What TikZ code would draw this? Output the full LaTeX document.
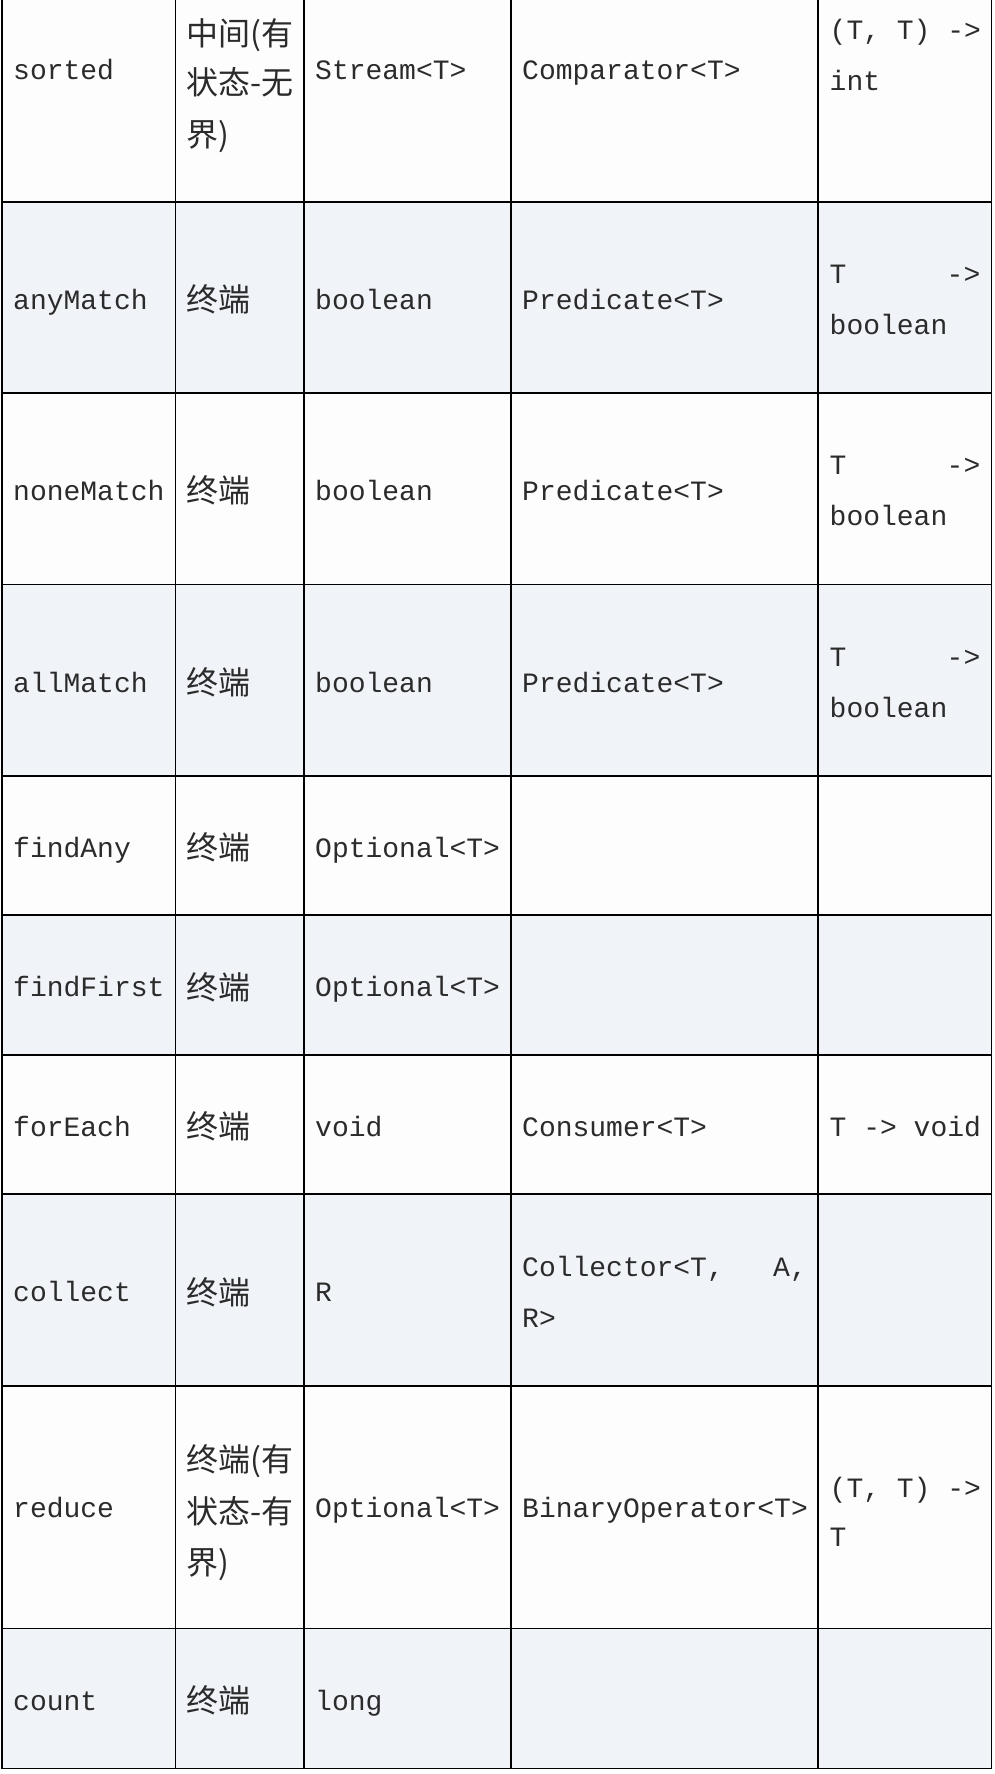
\documentclass[tikz,border=0pt]{standalone}
\usepackage{fontspec}
\newfontfamily\monof{Liberation Mono}
\newfontfamily\cjkf{Noto Sans CJK SC}
\definecolor{rowshade}{HTML}{F0F3F8}
\definecolor{paper}{HTML}{FDFDFD}
\definecolor{txt}{HTML}{2B2B2B}
\begin{document}
\begin{tikzpicture}[x=1pt,y=-1pt,
  code/.style={anchor=base west, inner sep=0pt, font=\monof\fontsize{28}{34}\selectfont, text=txt},
  coder/.style={code, anchor=base east},
  cjk/.style={anchor=base west, inner sep=0pt, font=\cjkf\fontsize{32}{40}\selectfont, text=txt},
  gridline/.style={line width=1.6pt, black}]
\useasboundingbox (0,0) rectangle (994,1774);
\fill[white] (0,0) rectangle (994,1774);
\fill[paper] (2,0) rectangle (991.5,1768.5);
% shaded rows
\fill[rowshade] (2,201.7) rectangle (991.5,392.7);
\fill[rowshade] (2,584.3) rectangle (991.5,776);
\fill[rowshade] (2,915) rectangle (991.5,1055);
\fill[rowshade] (2,1194) rectangle (991.5,1386);
\fill[rowshade] (2,1628.5) rectangle (991.5,1768.5);
% grid
\foreach \x in {2,175.6,304,511,818,991.5} \draw[gridline] (\x,0) -- (\x,1768.5);
\foreach \y in {201.7,392.7,584.3,776,915,1055,1194,1386,1628.5,1768.5} \draw[gridline] (1.2,\y) -- (992.3,\y);

% row 1: sorted
\node[code] (r1c1) at (13,80) {sorted};
\node[cjk] (r1c2a) at (186.5,45.2) {中间(有};
\node[cjk] (r1c2b) at (186.5,94.7) {状态-无};
\node[cjk] (r1c2c) at (186.5,146.2) {界)};
\node[code] (r1c3) at (315,80) {Stream<T>};
\node[code] (r1c4) at (522,80) {Comparator<T>};
\node[code] (r1c5a) at (829.5,40) {(T, T) ->};
\node[code] (r1c5b) at (829.5,90.7) {int};

% row 2: anyMatch
\node[code] (r2c1) at (13,309) {anyMatch};
\node[cjk] (r2c2) at (186.5,311.5) {终端};
\node[code] (r2c3) at (315,309) {boolean};
\node[code] (r2c4) at (522,309) {Predicate<T>};
\node[code] (r2c5a) at (829.5,283.4) {T};
\node[coder] (r2c5b) at (980.5,283.4) {->};
\node[code] (r2c5c) at (829.5,334.6) {boolean};

% row 3: noneMatch
\node[code] (r3c1) at (13,500.3) {noneMatch};
\node[cjk] (r3c2) at (186.5,502.8) {终端};
\node[code] (r3c3) at (315,500.3) {boolean};
\node[code] (r3c4) at (522,500.3) {Predicate<T>};
\node[code] (r3c5a) at (829.5,474.7) {T};
\node[coder] (r3c5b) at (980.5,474.7) {->};
\node[code] (r3c5c) at (829.5,525.9) {boolean};

% row 4: allMatch
\node[code] (r4c1) at (13,692) {allMatch};
\node[cjk] (r4c2) at (186.5,694.5) {终端};
\node[code] (r4c3) at (315,692) {boolean};
\node[code] (r4c4) at (522,692) {Predicate<T>};
\node[code] (r4c5a) at (829.5,666.4) {T};
\node[coder] (r4c5b) at (980.5,666.4) {->};
\node[code] (r4c5c) at (829.5,717.6) {boolean};

% row 5: findAny
\node[code] (r5c1) at (13,857.3) {findAny};
\node[cjk] (r5c2) at (186.5,859.8) {终端};
\node[code] (r5c3) at (315,857.3) {Optional<T>};

% row 6: findFirst
\node[code] (r6c1) at (13,996.8) {findFirst};
\node[cjk] (r6c2) at (186.5,999.3) {终端};
\node[code] (r6c3) at (315,996.8) {Optional<T>};

% row 7: forEach
\node[code] (r7c1) at (13,1136.3) {forEach};
\node[cjk] (r7c2) at (186.5,1138.8) {终端};
\node[code] (r7c3) at (315,1136.3) {void};
\node[code] (r7c4) at (522,1136.3) {Consumer<T>};
\node[code] (r7c5) at (829.5,1136.3) {T -> void};

% row 8: collect
\node[code] (r8c1) at (13,1301.8) {collect};
\node[cjk] (r8c2) at (186.5,1304.3) {终端};
\node[code] (r8c3) at (315,1301.8) {R};
\node[code] (r8c4a) at (522,1276.2) {Collector<T,};
\node[coder] (r8c4b) at (807,1276.2) {A,};
\node[code] (r8c4c) at (522,1327.4) {R>};

% row 9: reduce
\node[code] (r9c1) at (13,1517) {reduce};
\node[cjk] (r9c2a) at (186.5,1471.2) {终端(有};
\node[cjk] (r9c2b) at (186.5,1523.2) {状态-有};
\node[cjk] (r9c2c) at (186.5,1574.2) {界)};
\node[code] (r9c3) at (315,1517) {Optional<T>};
\node[code] (r9c4) at (522,1517) {BinaryOperator<T>};
\node[code] (r9c5a) at (829.5,1497.3) {(T, T) ->};
\node[code] (r9c5b) at (829.5,1546.7) {T};

% row 10: count
\node[code] (r10c1) at (13,1710) {count};
\node[cjk] (r10c2) at (186.5,1712.5) {终端};
\node[code] (r10c3) at (315,1710) {long};
\end{tikzpicture}
\end{document}
